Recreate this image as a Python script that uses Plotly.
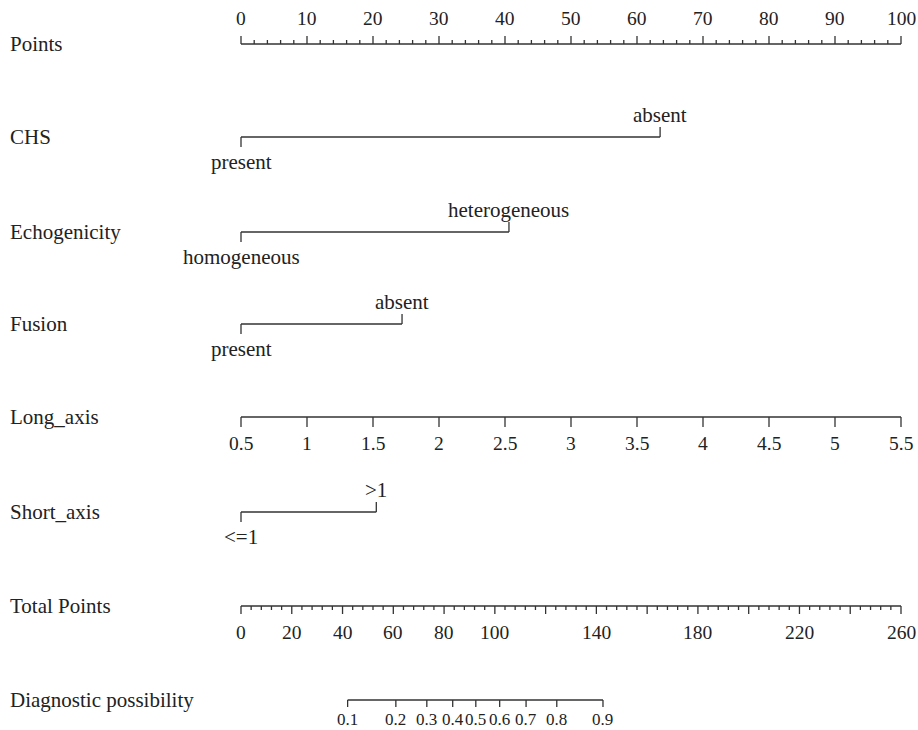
import plotly.graph_objects as go

# ---- nomogram data ----
points_ticks = list(range(0, 101, 10))
points_minor = list(range(0, 101, 2))

chs_levels = ["present", "absent"]
chs_points = [0, 63.5]

echo_levels = ["homogeneous", "heterogeneous"]
echo_points = [0, 40.6]

fusion_levels = ["present", "absent"]
fusion_points = [0, 24.4]

long_axis_values = [0.5, 1, 1.5, 2, 2.5, 3, 3.5, 4, 4.5, 5, 5.5]
long_axis_labels = ["0.5", "1", "1.5", "2", "2.5", "3", "3.5", "4", "4.5", "5", "5.5"]
long_axis_points = [0, 10, 20, 30, 40, 50, 60, 70, 80, 90, 100]

short_levels = ["<=1", ">1"]
short_points = [0, 20.5]

total_ticks = list(range(0, 261, 20))
total_minor = list(range(0, 261, 4))
total_labelled = [0, 20, 40, 60, 80, 100, 140, 180, 220, 260]
total_max = 260

diag_probs = ["0.1", "0.2", "0.3", "0.4", "0.5", "0.6", "0.7", "0.8", "0.9"]
diag_total = [42.0, 61.0, 73.2, 83.4, 92.5, 101.9, 112.3, 124.4, 142.6]

row_names = ["Points", "CHS", "Echogenicity", "Fusion", "Long_axis",
             "Short_axis", "Total Points", "Diagnostic possibility"]

# ---- layout constants (pixels) ----
W, H = 918, 730
X0_PX, X1_PX = 241, 901
PX_PER_PT = (X1_PX - X0_PX) / 100.0
row_y = [44, 137, 232, 324, 417, 512, 606, 700]
LABEL_X_PX = 8
FONT = "Liberation Serif"
INK = "#222222"
LINE = "#333333"

def px_to_pt(px):
    return (px - X0_PX) / PX_PER_PT

def tot_to_pt(t):
    return t * 100.0 / total_max

xs, ys = [], []
annotations = []

def seg(x0, y0, x1, y1):
    xs.extend([x0, x1, None])
    ys.extend([y0, y1, None])

def text(x, y, s, size=21, anchor="center"):
    annotations.append(dict(x=x, y=y, xref="x", yref="y", text=s, showarrow=False,
                            xanchor=anchor, yanchor="middle",
                            font=dict(family=FONT, size=size, color=INK)))

# row titles
for name, y in zip(row_names, row_y):
    text(px_to_pt(LABEL_X_PX), y, name, size=21, anchor="left")

# Points scale: ticks upward, labels above
y = row_y[0]
seg(points_minor[0], y, points_minor[-1], y)
for p in points_minor:
    seg(p, y, p, y - (8 if p in points_ticks else 4))
for p in points_ticks:
    text(p, y - 26, str(p), size=19.5)

# two-level categorical rows
def cat_row(y, levels, pts):
    seg(min(pts), y, max(pts), y)
    for i, (lv, p) in enumerate(zip(levels, pts)):
        if i % 2 == 0:
            seg(p, y, p, y + 10)
            text(p, y + 25, lv)
        else:
            seg(p, y, p, y - 10)
            text(p, y - 22, lv)

cat_row(row_y[1], chs_levels, chs_points)
cat_row(row_y[2], echo_levels, echo_points)
cat_row(row_y[3], fusion_levels, fusion_points)

# Long_axis continuous scale
y = row_y[4]
seg(long_axis_points[0], y, long_axis_points[-1], y)
for p, lab in zip(long_axis_points, long_axis_labels):
    seg(p, y, p, y + 10)
    text(p, y + 26, lab, size=19.5)

cat_row(row_y[5], short_levels, short_points)

# Total Points scale: ticks downward, labels below
y = row_y[6]
seg(tot_to_pt(total_minor[0]), y, tot_to_pt(total_minor[-1]), y)
for t in total_minor:
    seg(tot_to_pt(t), y, tot_to_pt(t), y + (8 if t in total_ticks else 4))
for t in total_labelled:
    text(tot_to_pt(t), y + 26, str(t), size=19.5)

# Diagnostic possibility scale
y = row_y[7]
seg(tot_to_pt(diag_total[0]), y, tot_to_pt(diag_total[-1]), y)
for t, lab in zip(diag_total, diag_probs):
    seg(tot_to_pt(t), y, tot_to_pt(t), y + 7)
    text(tot_to_pt(t), y + 19, lab, size=17)

fig = go.Figure()
fig.add_trace(go.Scatter(x=xs, y=ys, mode="lines",
                         line=dict(color=LINE, width=1.3),
                         hoverinfo="skip", showlegend=False))

fig.update_layout(
    width=W, height=H,
    margin=dict(l=0, r=0, t=0, b=0),
    paper_bgcolor="white", plot_bgcolor="white",
    xaxis=dict(range=[px_to_pt(0), px_to_pt(W)], visible=False, fixedrange=True),
    yaxis=dict(range=[H, 0], visible=False, fixedrange=True),
    annotations=annotations,
)

fig.write_html("out.html")
